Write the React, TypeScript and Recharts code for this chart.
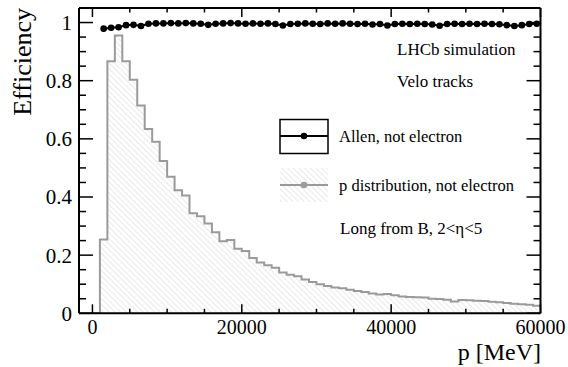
import { ComposedChart, Area, Scatter, XAxis, YAxis } from "recharts";

const FONT = '"Liberation Serif", "Times New Roman", serif';

// 1 GeV bins starting at p = 0
const BIN_WIDTH = 1000;

// normalised p distribution (not electron), one value per bin
const pDist = [
  0, 0.254, 0.867, 0.955, 0.867, 0.803, 0.715, 0.634, 0.59, 0.524,
  0.47, 0.423, 0.405, 0.344, 0.334, 0.309, 0.279, 0.248, 0.252, 0.222,
  0.214, 0.19, 0.175, 0.165, 0.157, 0.14, 0.133, 0.127, 0.116, 0.108,
  0.1, 0.094, 0.089, 0.086, 0.081, 0.077, 0.073, 0.068, 0.065, 0.066,
  0.062, 0.058, 0.056, 0.055, 0.054, 0.05, 0.049, 0.047, 0.041, 0.046,
  0.045, 0.043, 0.042, 0.04, 0.038, 0.035, 0.033, 0.031, 0.029, 0.026,
];

// Allen efficiency (not electron), starting at the second bin
const EFF_FIRST_BIN = 1;
const allenEff = [
  0.979, 0.982, 0.984, 0.991, 0.992, 0.988, 0.996, 0.997, 0.997, 0.998,
  0.997, 0.998, 0.997, 0.996, 0.992, 0.996, 0.997, 0.998, 0.997, 0.996,
  0.997, 0.996, 0.997, 0.995, 0.99, 0.995, 0.996, 0.997, 0.996, 0.995,
  0.997, 0.996, 0.997, 0.996, 0.995, 0.996, 0.993, 0.995, 0.99, 0.995,
  0.996, 0.995, 0.996, 0.995, 0.993, 0.989, 0.995, 0.996, 0.995, 0.996,
  0.995, 0.996, 0.995, 0.994, 0.991, 0.988, 0.991, 0.995, 0.996,
];

const xTicks = [0, 5000, 10000, 15000, 20000, 25000, 30000, 35000, 40000, 45000, 50000, 55000, 60000];
const xMajor = [0, 20000, 40000, 60000];
const yTicks = [
  0, 0.05, 0.1, 0.15, 0.2, 0.25, 0.3, 0.35, 0.4, 0.45, 0.5,
  0.55, 0.6, 0.65, 0.7, 0.75, 0.8, 0.85, 0.9, 0.95, 1,
];
const yMajor = [0, 0.2, 0.4, 0.6, 0.8, 1];

// step rows: lower bin edge -> content, closed at the last upper edge
const histRows = pDist
  .map((v, i) => ({ p: i * BIN_WIDTH, y: v }))
  .concat([{ p: pDist.length * BIN_WIDTH, y: pDist[pDist.length - 1] }]);

const effRows = allenEff.map((v, i) => ({
  p: (i + EFF_FIRST_BIN + 0.5) * BIN_WIDTH,
  y: v,
}));

const isMajor = (list: number[], v: number) => list.some((m) => Math.abs(m - v) < 1e-6);

function BottomTick({ x, y, payload }: any) {
  const major = isMajor(xMajor, payload.value);
  return (
    <g>
      <line x1={x} x2={x} y1={y} y2={y - (major ? 9 : 4.5)} stroke="#000" strokeWidth={1.5} />
      {major && (
        <text x={x} y={y + 21} textAnchor="middle" fontSize={20} fontFamily={FONT} fill="#000">
          {payload.value}
        </text>
      )}
    </g>
  );
}

function TopTick({ x, y, payload }: any) {
  const major = isMajor(xMajor, payload.value);
  return <line x1={x} x2={x} y1={y} y2={y + (major ? 9 : 4.5)} stroke="#000" strokeWidth={1.5} />;
}

function LeftTick({ x, y, payload }: any) {
  const major = isMajor(yMajor, payload.value);
  const label = Math.round(payload.value * 10) / 10;
  return (
    <g>
      <line x1={x} x2={x + (major ? 14 : 7)} y1={y} y2={y} stroke="#000" strokeWidth={1.5} />
      {major && (
        <text x={x - 7} y={y + 7.5} textAnchor="end" fontSize={21} fontFamily={FONT} fill="#000">
          {label}
        </text>
      )}
    </g>
  );
}

function RightTick({ x, y, payload }: any) {
  const major = isMajor(yMajor, payload.value);
  return <line x1={x} x2={x - (major ? 14 : 7)} y1={y} y2={y} stroke="#000" strokeWidth={1.5} />;
}

function Dot({ cx, cy }: any) {
  return <circle cx={cx} cy={cy} r={3.3} fill="#000" />;
}

function Label({ x, y, size = 17, anchor = "start", children }: any) {
  return (
    <text x={x} y={y} textAnchor={anchor} fontSize={size} fontFamily={FONT} fill="#000">
      {children}
    </text>
  );
}

function Overlay() {
  return (
    <svg width={568} height={367} style={{ position: "absolute", left: 0, top: 0, pointerEvents: "none" }}>
      <defs>
        <pattern id="hatchLeg" patternUnits="userSpaceOnUse" width={4} height={4} patternTransform="rotate(-45)">
          <line x1={0} y1={0} x2={0} y2={4} stroke="#d4d4d4" strokeWidth={1} />
        </pattern>
      </defs>
      <g transform="rotate(-90 31 8)">
        <Label x={31} y={8} size={26} anchor="end">Efficiency</Label>
      </g>
      <Label x={541} y={360} size={24} anchor="end">p [MeV]</Label>
      <Label x={397} y={55}>LHCb simulation</Label>
      <Label x={397} y={87}>Velo tracks</Label>

      <rect x={280} y={119.5} width={48} height={34} fill="none" stroke="#000" strokeWidth={1.5} />
      <line x1={280} x2={328} y1={136} y2={136} stroke="#000" strokeWidth={2} />
      <circle cx={304} cy={136} r={3.3} fill="#000" />
      <Label x={339} y={141.5} size={16.5}>Allen, not electron</Label>

      <rect x={280} y={168} width={48} height={34} fill="url(#hatchLeg)" />
      <line x1={280} x2={328} y1={185} y2={185} stroke="#9a9a9a" strokeWidth={2} />
      <circle cx={304} cy={185} r={3.3} fill="#9a9a9a" />
      <Label x={339} y={190.5} size={16.5}>p distribution, not electron</Label>

      <Label x={340} y={234}>Long from B, 2&lt;η&lt;5</Label>
    </svg>
  );
}

const axisLine = { stroke: "#000", strokeWidth: 2 };

export default function App() {
  return (
    <div style={{ position: "absolute", left: 0, top: 0, width: 568, height: 367, background: "#fff" }}>
      <ComposedChart
        width={568}
        height={367}
        data={histRows}
        margin={{ top: 7, right: 26.5, bottom: 52.7, left: 78 }}
      >
        <defs>
          <pattern id="hatch" patternUnits="userSpaceOnUse" width={4} height={4} patternTransform="rotate(-45)">
            <line x1={0} y1={0} x2={0} y2={4} stroke="#d4d4d4" strokeWidth={1} />
          </pattern>
        </defs>
        <XAxis
          dataKey="p"
          type="number"
          domain={[-1800, 60000]}
          allowDataOverflow
          ticks={xTicks}
          interval={0}
          height={1}
          tickSize={0}
          tickMargin={0}
          tickLine={false}
          axisLine={axisLine}
          tick={<BottomTick />}
        />
        <XAxis
          xAxisId="top"
          orientation="top"
          dataKey="p"
          type="number"
          domain={[-1800, 60000]}
          allowDataOverflow
          ticks={xTicks}
          interval={0}
          height={1}
          tickSize={0}
          tickMargin={0}
          tickLine={false}
          axisLine={axisLine}
          tick={<TopTick />}
        />
        <YAxis
          dataKey="y"
          type="number"
          domain={[0, 1.05]}
          allowDataOverflow
          ticks={yTicks}
          interval={0}
          width={1}
          tickSize={0}
          tickMargin={0}
          tickLine={false}
          axisLine={axisLine}
          tick={<LeftTick />}
        />
        <YAxis
          yAxisId="right"
          orientation="right"
          dataKey="y"
          type="number"
          domain={[0, 1.05]}
          allowDataOverflow
          ticks={yTicks}
          interval={0}
          width={1}
          tickSize={0}
          tickMargin={0}
          tickLine={false}
          axisLine={axisLine}
          tick={<RightTick />}
        />
        <Area
          type="stepAfter"
          dataKey="y"
          stroke="#9a9a9a"
          strokeWidth={2}
          fill="url(#hatch)"
          fillOpacity={1}
          isAnimationActive={false}
          dot={false}
          activeDot={false}
        />
        <Scatter
          data={effRows}
          dataKey="y"
          line={{ stroke: "#000", strokeWidth: 2 }}
          shape={<Dot />}
          isAnimationActive={false}
        />
      </ComposedChart>
      <Overlay />
    </div>
  );
}
